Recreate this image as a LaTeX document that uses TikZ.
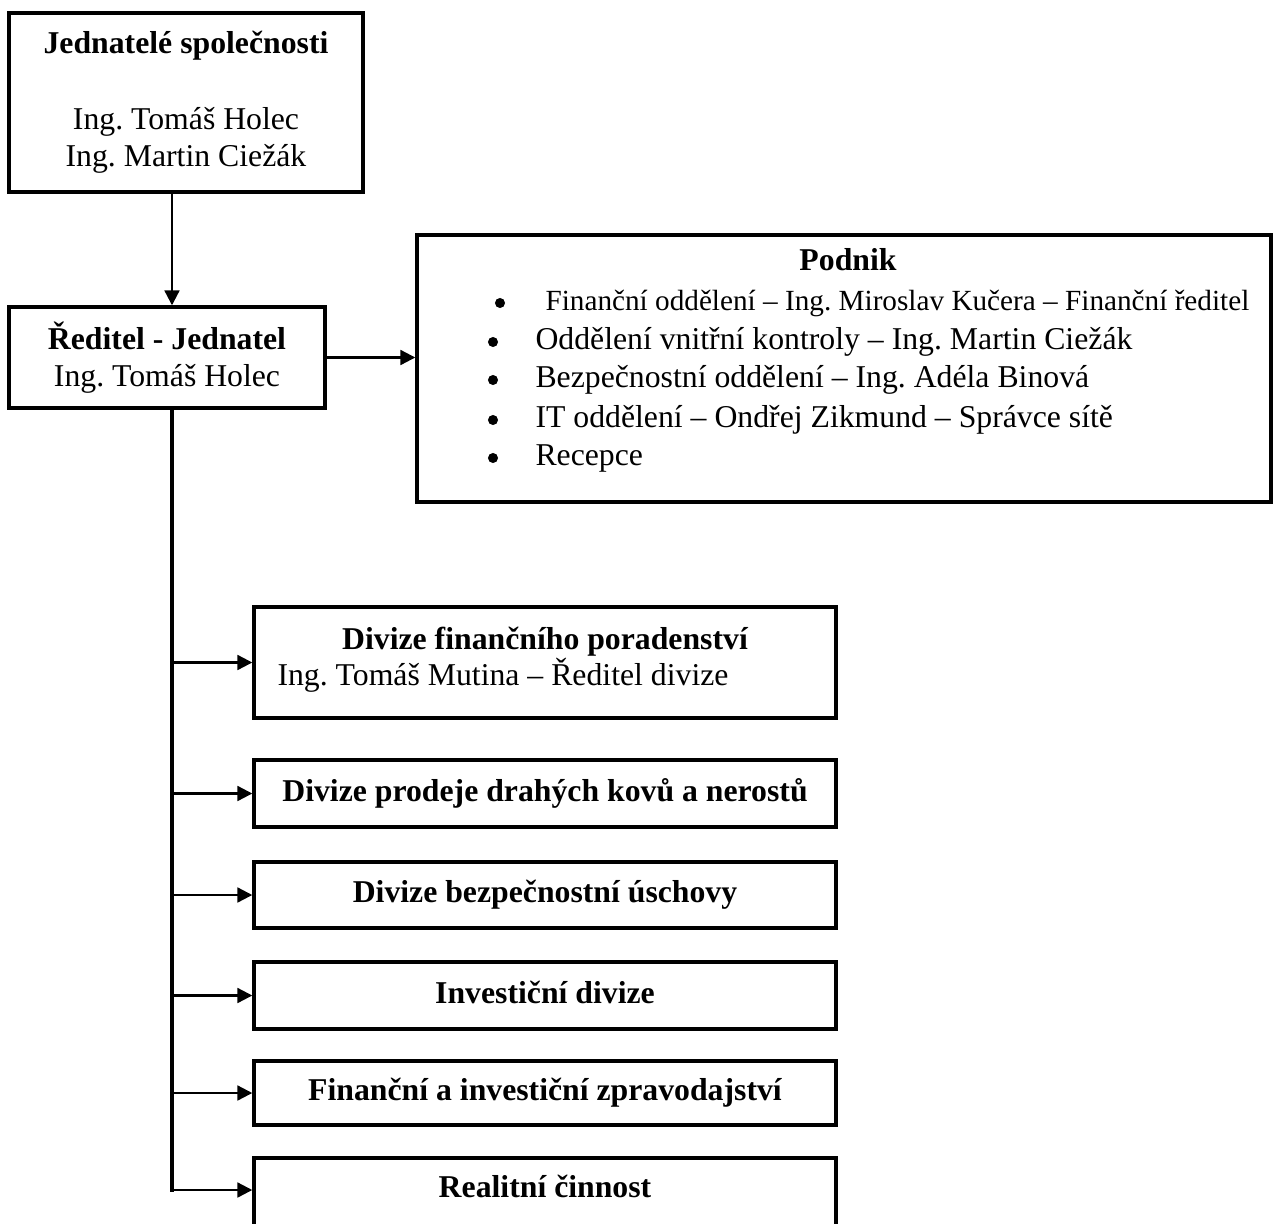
\documentclass[tikz,border=0pt]{standalone}
\usepackage{fontspec}
\setmainfont{Liberation Serif}
\usetikzlibrary{arrows.meta}

\newcommand\pu{0.378pt}
\newcommand\orgfont{\fontsize{12pt}{14.2pt}\selectfont}

\tikzset{
  box/.style={draw, line width=1.3pt, inner sep=0pt, font=\orgfont},
  onebox/.style={text height=8.5pt, text depth=2.5pt},
  txt/.style={inner sep=0pt, text height=8.5pt, text depth=2.5pt, font=\orgfont},
  arr/.style={-{Triangle[length=5.6pt,width=5.6pt]}, line width=0.85pt},
  trunk/.style={line width=1.2pt, line cap=rect}
}

\begin{document}
\frenchspacing
\begin{tikzpicture}[x=\pu, y=-\pu]
        \useasboundingbox (0,0) rectangle (1274,1224);
        \clip (0,0) rectangle (1274,1224);
        \coordinate (axis) at (172,0);

        \node[box, align=center, minimum width=354*\pu, minimum height=179*\pu] (jed) at (186,102.5)
            {\textbf{Jednatelé společnosti}\\[14.2pt] Ing. Tomáš Holec\\ Ing. Martin Ciežák};
        \node[box, align=center, minimum width=316*\pu, minimum height=101*\pu] (red) at (167,357.5)
            {\textbf{Ředitel - Jednatel}\\ Ing. Tomáš Holec};

        \node[box, minimum width=854*\pu, minimum height=267*\pu] (podnik) at (844,368.5) {};
        \node[txt, font=\orgfont\bfseries] (podnikt) at (848,263) {Podnik};
        \fill (500,303) circle[radius=1.9pt];
        \fill (493,342) circle[radius=1.9pt];
        \fill (493,380) circle[radius=1.9pt];
        \fill (493,420) circle[radius=1.9pt];
        \fill (493,458) circle[radius=1.9pt];
        \node[txt, anchor=west, font=\fontsize{11.05pt}{13pt}\selectfont] (i1) at (545,303)
            {Finanční oddělení – Ing. Miroslav Kučera – Finanční ředitel};
        \node[txt, anchor=west] (i2) at (535,342) {Oddělení vnitřní kontroly – Ing. Martin Ciežák};
        \node[txt, anchor=west] (i3) at (535,380) {Bezpečnostní oddělení – Ing. Adéla Binová};
        \node[txt, anchor=west] (i4) at (535,420) {IT oddělení – Ondřej Zikmund – Správce sítě};
        \node[txt, anchor=west] (i5) at (535,458) {Recepce};

        \node[box, minimum width=582*\pu, minimum height=111*\pu] (d1) at (545,662.5) {};
        \node[txt, font=\orgfont\bfseries] (d1t) at (545,642) {Divize finančního poradenství};
        \node[txt, anchor=west] (d1n) at (277,678) {Ing. Tomáš Mutina – Ředitel divize};
        \node[box, onebox, font=\orgfont\bfseries, minimum width=582*\pu, minimum height=67*\pu] (d2) at (545,793.5)
            {Divize prodeje drahých kovů a nerostů};
        \node[box, onebox, font=\orgfont\bfseries, minimum width=582*\pu, minimum height=66*\pu] (d3) at (545,895)
            {Divize bezpečnostní úschovy};
        \node[box, onebox, font=\orgfont\bfseries, minimum width=582*\pu, minimum height=67*\pu] (d4) at (545,995.5)
            {Investiční divize};
        \node[box, onebox, font=\orgfont\bfseries, minimum width=582*\pu, minimum height=64*\pu] (d5) at (545,1093)
            {Finanční a investiční zpravodajství};
        \node[box, minimum width=582*\pu, minimum height=82*\pu] (d6) at (545,1199) {};
        \node[txt, font=\orgfont\bfseries] (d6t) at (545,1190) {Realitní činnost};

        \draw[arr] (jed.south -| axis) -- (red.north -| axis);
        \draw[arr] (red.east) -- (red.east -| podnik.west);
        \draw[trunk] (red.south -| axis) -- (axis |- d6t);
        \draw[arr] (axis |- d1.west) -- (d1.west);
        \draw[arr] (axis |- d2.west) -- (d2.west);
        \draw[arr] (axis |- d3.west) -- (d3.west);
        \draw[arr] (axis |- d4.west) -- (d4.west);
        \draw[arr] (axis |- d5.west) -- (d5.west);
        \draw[arr] (axis |- d6t) -- (d6.west |- d6t);
\end{tikzpicture}
\end{document}
